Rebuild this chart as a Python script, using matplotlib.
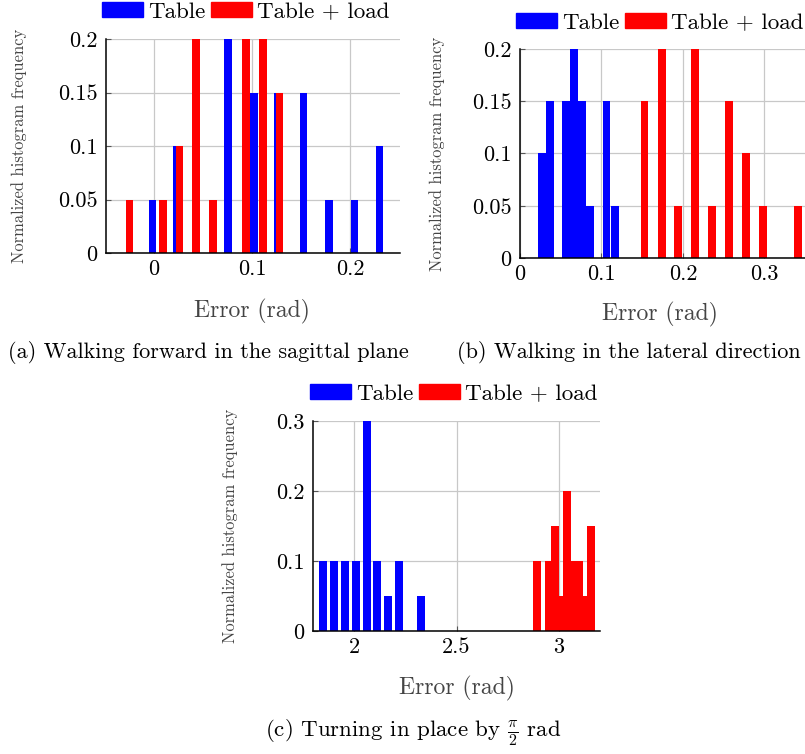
import matplotlib
matplotlib.use('Agg')
import matplotlib.pyplot as plt
from matplotlib.patches import Patch

plt.rcParams['font.family'] = 'serif'
plt.rcParams['font.serif'] = ['cmr10']
plt.rcParams['mathtext.fontset'] = 'cm'
plt.rcParams['axes.formatter.use_mathtext'] = True

W, H = 805, 754

# (a) walking forward in the sagittal plane
a_table_x = [-0.0017, 0.0236, 0.0755, 0.1017, 0.1267, 0.1527, 0.1786, 0.2044, 0.2300]
a_table_y = [0.05, 0.1, 0.2, 0.15, 0.15, 0.15, 0.05, 0.05, 0.1]
a_load_x = [-0.025, 0.0094, 0.026, 0.0429, 0.060, 0.094, 0.111, 0.128]
a_load_y = [0.05, 0.05, 0.1, 0.2, 0.05, 0.2, 0.2, 0.15]

# (b) walking in the lateral direction
b_table_x = [0.027, 0.0369, 0.0567, 0.0666, 0.0765, 0.0864, 0.1062, 0.1161]
b_table_y = [0.1, 0.15, 0.15, 0.2, 0.15, 0.05, 0.15, 0.05]
b_load_x = [0.1528, 0.174, 0.1945, 0.2154, 0.2362, 0.257, 0.2775, 0.298, 0.341]
b_load_y = [0.15, 0.2, 0.05, 0.2, 0.05, 0.15, 0.1, 0.05, 0.05]

# (c) turning in place
c_table_x = [1.847, 1.901, 1.955, 2.008, 2.061, 2.114, 2.168, 2.220, 2.325]
c_table_y = [0.1, 0.1, 0.1, 0.1, 0.3, 0.1, 0.05, 0.1, 0.05]
c_load_x = [2.8945, 2.953, 2.9823, 3.0116, 3.0408, 3.070, 3.0994, 3.1287, 3.158]
c_load_y = [0.1, 0.1, 0.15, 0.05, 0.2, 0.1, 0.1, 0.05, 0.15]

labels = ['Table', 'Table + load']
colors = ['#0000ff', '#ff0000']

fig = plt.figure(figsize=(W / 100, H / 100), dpi=100)


def px_axes(left, top, right, bottom):
    return fig.add_axes([left / W, 1 - bottom / H, (right - left) / W, (bottom - top) / H])


def draw_panel(ax, box, tx, ty, lx, ly, width, xlim, ylim, xticks, yticks, xtl, ytl,
               xlab_xy, ylab_x, leg_xy):
    left, top, right, bottom = box
    ax.bar(tx, ty, width=width, color=colors[0], zorder=2)
    ax.bar(lx, ly, width=width, color=colors[1], zorder=3)
    ax.set_xlim(*xlim)
    ax.set_ylim(*ylim)
    ax.set_xticks(xticks, xtl)
    ax.set_yticks(yticks, ytl)
    ax.grid(True, color='#c8c8c8', linewidth=0.9, zorder=0)
    ax.set_axisbelow(True)
    for s in ['top', 'right']:
        ax.spines[s].set_visible(False)
    for s in ['left', 'bottom']:
        ax.spines[s].set_linewidth(1.1)
        ax.spines[s].set_zorder(5)
    ax.tick_params(direction='in', length=3.5, width=0.8, color='#555555',
                   labelsize=16)
    ax.tick_params(axis='y', pad=6)
    ax.tick_params(axis='x', pad=5)
    ax.set_xlabel('Error (rad)', fontsize=17, color='#444444')
    ax.xaxis.set_label_coords((xlab_xy[0] - left) / (right - left),
                              (bottom - xlab_xy[1]) / (bottom - top))
    ax.set_ylabel('Normalized histogram frequency', fontsize=11.9, color='#444444')
    ax.yaxis.set_label_coords((ylab_x - left) / (right - left), 0.5)
    ax.yaxis.label.set_va('center')
    handles = [Patch(color=colors[0]), Patch(color=colors[1])]
    ax.legend(handles, labels, loc='center left',
              bbox_to_anchor=(leg_xy[0] / W, 1 - leg_xy[1] / H),
              bbox_transform=fig.transFigure,
              ncol=2, frameon=False, fontsize=16.6, handlelength=1.78,
              handleheight=0.6, handletextpad=0.22, columnspacing=0.25,
              borderpad=0.0, borderaxespad=0.0)


box_a = (106, 39, 400, 253)
ax_a = px_axes(*box_a)
draw_panel(ax_a, box_a, a_table_x, a_table_y, a_load_x, a_load_y, 0.0078,
           (-0.049, 0.251), (0, 0.2), [0, 0.1, 0.2], [0, 0.05, 0.1, 0.15, 0.2],
           ['0', '0.1', '0.2'], ['0', '0.05', '0.1', '0.15', '0.2'],
           (252, 299), 19, (102, 12))

box_b = (520, 49, 840, 258)
ax_b = px_axes(*box_b)
draw_panel(ax_b, box_b, b_table_x, b_table_y, b_load_x, b_load_y, 0.0097,
           (0, (840 - 519.8) / 815), (0, 0.2), [0, 0.1, 0.2, 0.3],
           [0, 0.05, 0.1, 0.15, 0.2],
           ['0', '0.1', '0.2', '0.3'], ['0', '0.05', '0.1', '0.15', '0.2'],
           (660, 302), 437, (516, 23))

box_c = (313, 421, 600, 631)
ax_c = px_axes(*box_c)
draw_panel(ax_c, box_c, c_table_x, c_table_y, c_load_x, c_load_y, 0.039,
           (1.8, 3.2), (0, 0.3), [2, 2.5, 3], [0, 0.1, 0.2, 0.3],
           ['2', '2.5', '3'], ['0', '0.1', '0.2', '0.3'],
           (457, 676), 230, (310, 394))

fig.text(208 / W, 1 - 353 / H, '(a) Walking forward in the sagittal plane',
         ha='center', va='center', fontsize=16)
fig.text(629 / W, 1 - 353 / H, '(b) Walking in the lateral direction',
         ha='center', va='center', fontsize=16)
fig.text(413 / W, 1 - 733 / H, r'(c) Turning in place by $\frac{\pi}{2}$ rad',
         ha='center', va='center', fontsize=16.5)

fig.savefig('out.png', dpi=100)
